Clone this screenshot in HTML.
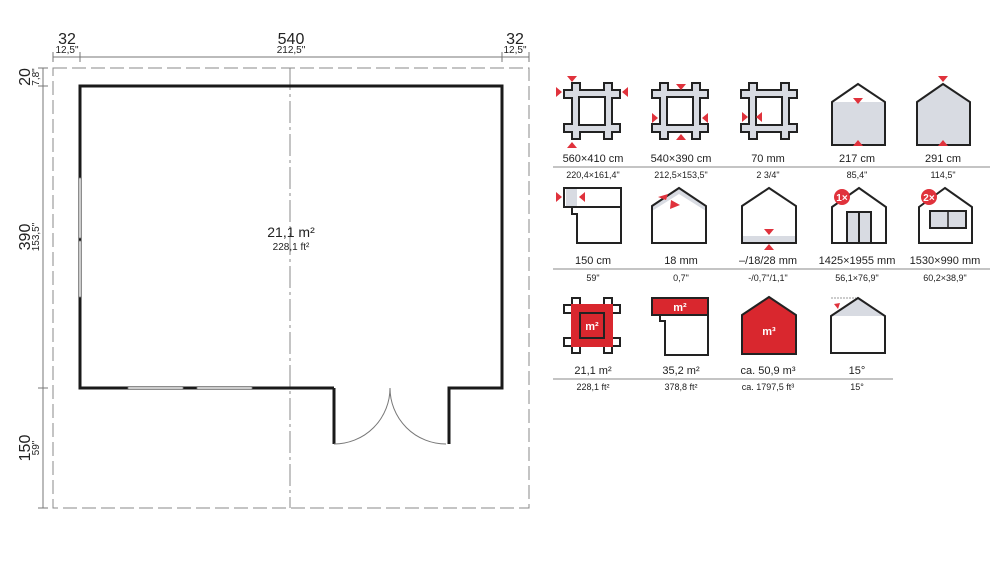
<!DOCTYPE html>
<html><head><meta charset="utf-8"><style>
html,body{margin:0;padding:0;background:#fff;}
svg{display:block;}
text{font-family:"Liberation Sans",sans-serif;fill:#222;}
</style></head><body>
<svg width="1000" height="563" viewBox="0 0 1000 563" xmlns="http://www.w3.org/2000/svg">
<defs>
<g id="fr">
  <g fill="#222">
    <rect x="-21" y="-29" width="10" height="58"/><rect x="11" y="-29" width="10" height="58"/>
    <rect x="-29" y="-22" width="58" height="10"/><rect x="-29" y="12" width="58" height="10"/>
  </g>
  <g fill="#d8dbe2">
    <rect x="-19" y="-27" width="6" height="54"/><rect x="13" y="-27" width="6" height="54"/>
    <rect x="-27" y="-20" width="54" height="6"/><rect x="-27" y="14" width="54" height="6"/>
  </g>
  <rect x="-13" y="-14" width="26" height="28" fill="#fff" stroke="#222" stroke-width="2"/>
</g>
<polygon id="td" points="-5,0 5,0 0,6" fill="#e0323c"/>
<polygon id="tu" points="-5,6 5,6 0,0" fill="#e0323c"/>
<polygon id="tr" points="0,-5 0,5 6,0" fill="#e0323c"/>
<polygon id="tl" points="6,-5 6,5 0,0" fill="#e0323c"/>
</defs>

<!-- floor plan -->
<g stroke="#888" stroke-width="1" fill="none" stroke-dasharray="14,5">
  <rect x="53" y="68" width="476" height="440"/>
</g>
<line x1="290" y1="68" x2="290" y2="508" stroke="#888" stroke-width="1" stroke-dasharray="22,4,3,4"/>
<!-- dimension lines -->
<g stroke="#777" stroke-width="1">
  <line x1="53" y1="57" x2="529" y2="57"/>
  <line x1="53" y1="52" x2="53" y2="62"/><line x1="80" y1="52" x2="80" y2="62"/>
  <line x1="502" y1="52" x2="502" y2="62"/><line x1="529" y1="52" x2="529" y2="62"/>
  <line x1="43" y1="68" x2="43" y2="508"/>
  <line x1="38" y1="68" x2="48" y2="68"/><line x1="38" y1="86" x2="48" y2="86"/>
  <line x1="38" y1="388" x2="48" y2="388"/><line x1="38" y1="508" x2="48" y2="508"/>
</g>
<g text-anchor="middle">
  <text x="67" y="44" font-size="16">32</text><text x="67" y="53" font-size="10">12,5"</text>
  <text x="291" y="44" font-size="16">540</text><text x="291" y="53" font-size="10">212,5"</text>
  <text x="515" y="44" font-size="16">32</text><text x="515" y="53" font-size="10">12,5"</text>
  <g transform="translate(30,77) rotate(-90)"><text x="0" y="0" font-size="16">20</text><text x="0" y="9" font-size="10">7,8"</text></g>
  <g transform="translate(30,237) rotate(-90)"><text x="0" y="0" font-size="16">390</text><text x="0" y="9" font-size="10">153,5"</text></g>
  <g transform="translate(30,448) rotate(-90)"><text x="0" y="0" font-size="16">150</text><text x="0" y="9" font-size="10">59"</text></g>
  <text x="291" y="237" font-size="14">21,1 m²</text>
  <text x="291" y="250" font-size="10">228,1 ft²</text>
</g>
<!-- walls -->
<path d="M334,388 L80,388 L80,86 L502,86 L502,388 L449,388 L449,444 M334,388 L334,444" fill="none" stroke="#1a1a1a" stroke-width="3"/>
<!-- windows -->
<g fill="#ccc" stroke="#777" stroke-width="0.8">
  <rect x="128" y="386.5" width="55" height="3"/><rect x="197" y="386.5" width="55" height="3"/>
  <rect x="78.5" y="178" width="3" height="60"/><rect x="78.5" y="241" width="3" height="56"/>
</g>
<!-- door arcs -->
<path d="M334,444 A56,56 0 0 0 390,388 A56,56 0 0 0 446,444" fill="none" stroke="#777" stroke-width="1"/>

<!-- icons row 1 -->
<use href="#fr" x="592" y="111"/>
<use href="#td" x="572" y="76"/><use href="#tu" x="572" y="142"/><use href="#tr" x="556" y="92"/><use href="#tl" x="622" y="92"/>
<use href="#fr" x="680" y="111"/>
<use href="#td" x="681" y="84"/><use href="#tu" x="681" y="134"/><use href="#tr" x="652" y="118"/><use href="#tl" x="702" y="118"/>
<use href="#fr" x="769" y="111"/>
<use href="#tr" x="742" y="117"/><use href="#tl" x="756" y="117"/>
<polygon points="832,102 832,145 885,145 885,102" fill="#d8dbe2"/>
<polygon points="832,102 858,84 885,102 885,145 832,145" fill="none" stroke="#222" stroke-width="2"/>
<use href="#td" x="858" y="98"/><use href="#tu" x="858" y="140"/>
<polygon points="917,102 943,84 970,102 970,145 917,145" fill="#d8dbe2" stroke="#222" stroke-width="2"/>
<use href="#td" x="943" y="76"/><use href="#tu" x="943" y="140"/>

<!-- row 2 -->
<rect x="566" y="188" width="11" height="19" fill="#d8dbe2"/>
<path d="M564,188 L621,188 L621,243 L577,243 L577,214 L572,214 L572,207 L564,207 Z M564,207 L621,207" fill="none" stroke="#222" stroke-width="2"/>
<use href="#tr" x="556" y="197"/><use href="#tl" x="579" y="197"/>
<polygon points="652,206 679,188 706,206 706,211 679,194 652,211" fill="#d8dbe2"/>
<polygon points="652,206 679,188 706,206 706,243 652,243" fill="none" stroke="#222" stroke-width="2"/>
<polygon points="658,197 668,194 666,200" fill="#e0323c"/><polygon points="671,200 680,205 670,209" fill="#e0323c"/>
<rect x="742" y="236" width="54" height="7" fill="#d8dbe2"/>
<polygon points="742,206 769,188 796,206 796,243 742,243" fill="none" stroke="#222" stroke-width="2"/>
<use href="#td" x="769" y="229"/><use href="#tu" x="769" y="244"/>
<polygon points="832,207 859,188 886,207 886,243 832,243" fill="#fff" stroke="#222" stroke-width="2"/>
<rect x="847" y="212" width="24" height="31" fill="#d8dbe2" stroke="#222" stroke-width="2"/><line x1="859" y1="212" x2="859" y2="243" stroke="#222" stroke-width="2"/>
<circle cx="842" cy="197" r="8" fill="#e0323c"/><text x="842" y="201" font-size="10" font-weight="bold" fill="#fff" text-anchor="middle" style="fill:#fff">1×</text>
<polygon points="919,207 945,188 972,207 972,243 919,243" fill="#fff" stroke="#222" stroke-width="2"/>
<rect x="930" y="211" width="36" height="17" fill="#d8dbe2" stroke="#222" stroke-width="2"/><line x1="948" y1="211" x2="948" y2="228" stroke="#222" stroke-width="1.5"/>
<circle cx="929" cy="197" r="8" fill="#e0323c"/><text x="929" y="201" font-size="10" font-weight="bold" text-anchor="middle" style="fill:#fff">2×</text>

<!-- row 3 -->
<g>
  <g fill="#222">
    <rect x="571" y="297" width="10" height="57"/><rect x="603" y="297" width="10" height="57"/>
    <rect x="563" y="304" width="58" height="10"/><rect x="563" y="337" width="58" height="10"/>
  </g>
  <g fill="#fff"><rect x="573" y="299" width="6" height="53"/><rect x="605" y="299" width="6" height="53"/><rect x="565" y="306" width="54" height="6"/><rect x="565" y="339" width="54" height="6"/></g>
  <rect x="571" y="304" width="42" height="43" fill="#d9272e"/>
  <rect x="580" y="313" width="24" height="25" fill="#d9272e" stroke="#222" stroke-width="2"/>
  <text x="592" y="330" font-size="11" font-weight="bold" text-anchor="middle" style="fill:#fff">m²</text>
</g>
<rect x="652" y="298" width="56" height="17" fill="#d9272e" stroke="#222" stroke-width="2"/>
<text x="680" y="311" font-size="11" font-weight="bold" text-anchor="middle" style="fill:#fff">m²</text>
<path d="M660,315 L660,321 L665,321 L665,355 L708,355 L708,315" fill="none" stroke="#222" stroke-width="2"/>
<polygon points="742,315 769,297 796,315 796,354 742,354" fill="#d9272e" stroke="#222" stroke-width="2"/>
<text x="769" y="335" font-size="11" font-weight="bold" text-anchor="middle" style="fill:#fff">m³</text>
<polygon points="831,316 858,298 885,316" fill="#d8dbe2"/>
<polygon points="831,316 858,298 885,316 885,353 831,353" fill="none" stroke="#222" stroke-width="2"/>
<line x1="831" y1="298" x2="856" y2="298" stroke="#999" stroke-width="1" stroke-dasharray="2,1"/>
<polygon points="834,304 840,303 838,309" fill="#e0323c"/>

<!-- labels -->
<g text-anchor="middle" font-size="11">
  <text x="593" y="162">560×410 cm</text><text x="681" y="162">540×390 cm</text><text x="768" y="162">70 mm</text><text x="857" y="162">217 cm</text><text x="943" y="162">291 cm</text>
  <text x="593" y="264">150 cm</text><text x="681" y="264">18 mm</text><text x="768" y="264">–/18/28 mm</text><text x="857" y="264">1425×1955 mm</text><text x="945" y="264">1530×990 mm</text>
  <text x="593" y="374">21,1 m²</text><text x="681" y="374">35,2 m²</text><text x="768" y="374">ca. 50,9 m³</text><text x="857" y="374">15°</text>
</g>
<g text-anchor="middle" font-size="9">
  <text x="593" y="178">220,4×161,4"</text><text x="681" y="178">212,5×153,5"</text><text x="768" y="178">2  3/4"</text><text x="857" y="178">85,4"</text><text x="943" y="178">114,5"</text>
  <text x="593" y="281">59"</text><text x="681" y="281">0,7"</text><text x="768" y="281">-/0,7"/1,1"</text><text x="857" y="281">56,1×76,9"</text><text x="945" y="281">60,2×38,9"</text>
  <text x="593" y="390">228,1 ft²</text><text x="681" y="390">378,8 ft²</text><text x="768" y="390">ca. 1797,5 ft³</text><text x="857" y="390">15°</text>
</g>
<g stroke="#888" stroke-width="1">
  <line x1="553" y1="167" x2="990" y2="167"/>
  <line x1="553" y1="269" x2="990" y2="269"/>
  <line x1="553" y1="379" x2="893" y2="379"/>
</g>
</svg>
</body></html>
